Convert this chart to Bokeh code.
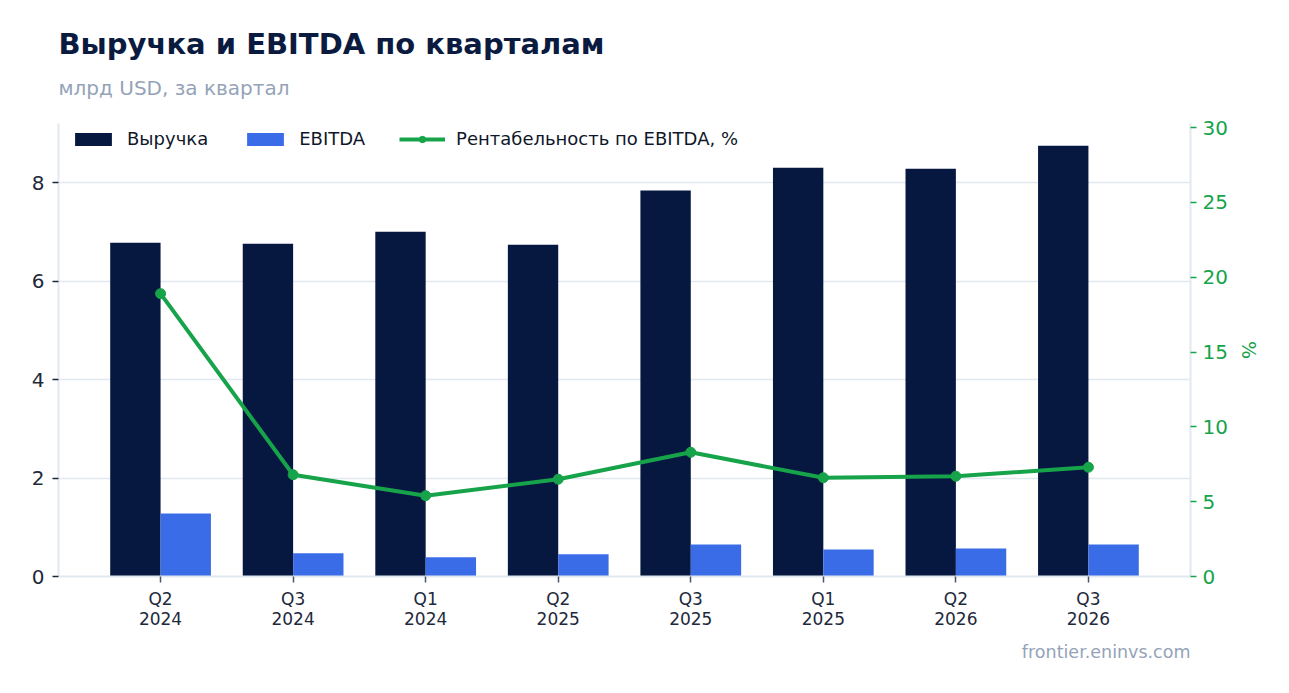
from bokeh.plotting import figure
from bokeh.models import (Range1d, FactorRange, LinearAxis, FixedTicker, Title,
                          Legend, LegendItem, ColumnDataSource)
from bokeh.transform import dodge
from bokeh.embed import file_html
from bokeh.resources import INLINE

quarters = ["Q2", "Q3", "Q1", "Q2", "Q3", "Q1", "Q2", "Q3"]
years = ["2024", "2024", "2024", "2025", "2025", "2025", "2026", "2026"]
revenue = [6.78, 6.76, 7.00, 6.74, 7.84, 8.30, 8.28, 8.75]
ebitda = [1.28, 0.47, 0.39, 0.45, 0.65, 0.55, 0.57, 0.65]
margin = [18.9, 6.8, 5.4, 6.5, 8.3, 6.6, 6.7, 7.3]
left_ticks = [0, 2, 4, 6, 8]
right_ticks = [0, 5, 10, 15, 20, 25, 30]

title_text = "Выручка и EBITDA по кварталам"
subtitle_text = "млрд USD, за квартал"
source_text = "frontier.eninvs.com"

cats = [f"{q}\n{y}" for q, y in zip(quarters, years)]
src = ColumnDataSource(dict(cat=cats, revenue=revenue, ebitda=ebitda, margin=margin))

FONT = "DejaVu Sans"
NAVY = "#061740"
BLUE = "#3b6ce8"
GREEN = "#16a34a"
GRID = "#e2e8f0"
MUTED = "#94a3b8"
TEXT = "#1e293b"

W, H = 1273, 677
p = figure(width=W, height=H, output_backend="svg", toolbar_location=None,
           x_range=FactorRange(*cats, range_padding=0.27, range_padding_units="absolute"),
           y_range=Range1d(0, 9.2),
           min_border_left=58, min_border_right=83, min_border_top=123, min_border_bottom=101)
p.extra_y_ranges = {"pct": Range1d(0, 30.27)}
p.outline_line_color = None
p.background_fill_color = "white"
p.border_fill_color = "white"

r1 = p.vbar(x=dodge("cat", -0.19, range=p.x_range), top="revenue", width=0.38,
            source=src, color=NAVY, line_color=None)
r2 = p.vbar(x=dodge("cat", 0.19, range=p.x_range), top="ebitda", width=0.38,
            source=src, color=BLUE, line_color=None)
l1 = p.line(x="cat", y="margin", source=src, y_range_name="pct",
            line_width=4, color=GREEN)
s1 = p.scatter(x="cat", y="margin", source=src, y_range_name="pct",
               size=10, color=GREEN, line_color=GREEN)

# axes
p.xgrid.grid_line_color = None
p.ygrid.grid_line_color = GRID
p.ygrid.grid_line_width = 1.5

xa = p.xaxis[0]
xa.axis_line_color = GRID
xa.axis_line_width = 2
xa.major_tick_line_color = "#475569"
xa.major_tick_line_width = 1.5
xa.major_tick_out = 6
xa.major_tick_in = 0
xa.minor_tick_line_color = None
xa.major_label_text_font = FONT
xa.major_label_text_font_size = "17px"
xa.major_label_text_color = TEXT
xa.major_label_text_line_height = 1.0
xa.major_label_standoff = 6

ya = p.yaxis[0]
ya.ticker = FixedTicker(ticks=left_ticks)
ya.axis_line_color = GRID
ya.axis_line_width = 2
ya.major_tick_line_color = TEXT
ya.major_tick_line_width = 1.5
ya.major_tick_out = 6
ya.major_tick_in = 0
ya.minor_tick_line_color = None
ya.major_label_text_font = FONT
ya.major_label_text_font_size = "20px"
ya.major_label_text_color = TEXT
ya.major_label_standoff = 8

ra = LinearAxis(y_range_name="pct", ticker=FixedTicker(ticks=right_ticks), axis_label="%")
ra.axis_line_color = GRID
ra.axis_line_width = 2
ra.major_tick_line_color = GREEN
ra.major_tick_line_width = 1.5
ra.major_tick_out = 6
ra.major_tick_in = 0
ra.minor_tick_line_color = None
ra.major_label_text_font = FONT
ra.major_label_text_font_size = "20px"
ra.major_label_text_color = GREEN
ra.major_label_standoff = 6
ra.axis_label_text_font = FONT
ra.axis_label_text_font_size = "19px"
ra.axis_label_text_font_style = "normal"
ra.axis_label_text_color = GREEN
ra.axis_label_standoff = 7
p.add_layout(ra, "right")

legend = Legend(items=[
    LegendItem(label="Выручка", renderers=[r1]),
    LegendItem(label="EBITDA", renderers=[r2]),
    LegendItem(label="Рентабельность по EBITDA, %", renderers=[l1, s1]),
], orientation="horizontal", location=(12, 427))
legend.padding = 0
legend.margin = 0
legend.spacing = 34
legend.label_standoff = 11
legend.glyph_width = 46
legend.glyph_height = 16
legend.label_height = 20
legend.label_text_font = FONT
legend.label_text_font_size = "18px"
legend.label_text_color = "#0f172a"
legend.background_fill_alpha = 0
legend.border_line_color = None
p.add_layout(legend)

sub = Title(text=subtitle_text, align="left", text_font=FONT, text_font_size="20px",
            text_font_style="normal", text_color=MUTED, standoff=47)
p.add_layout(sub, "above")
tt = Title(text=title_text, align="left", text_font=FONT, text_font_size="29px",
           text_font_style="bold", text_color="#0b1a3f", standoff=-21)
p.add_layout(tt, "above")
wm = Title(text=source_text, align="right", text_font=FONT, text_font_size="17.5px",
           text_font_style="normal", text_color=MUTED, standoff=16)
p.add_layout(wm, "below")

open("out.html", "w").write(file_html(p, INLINE))
